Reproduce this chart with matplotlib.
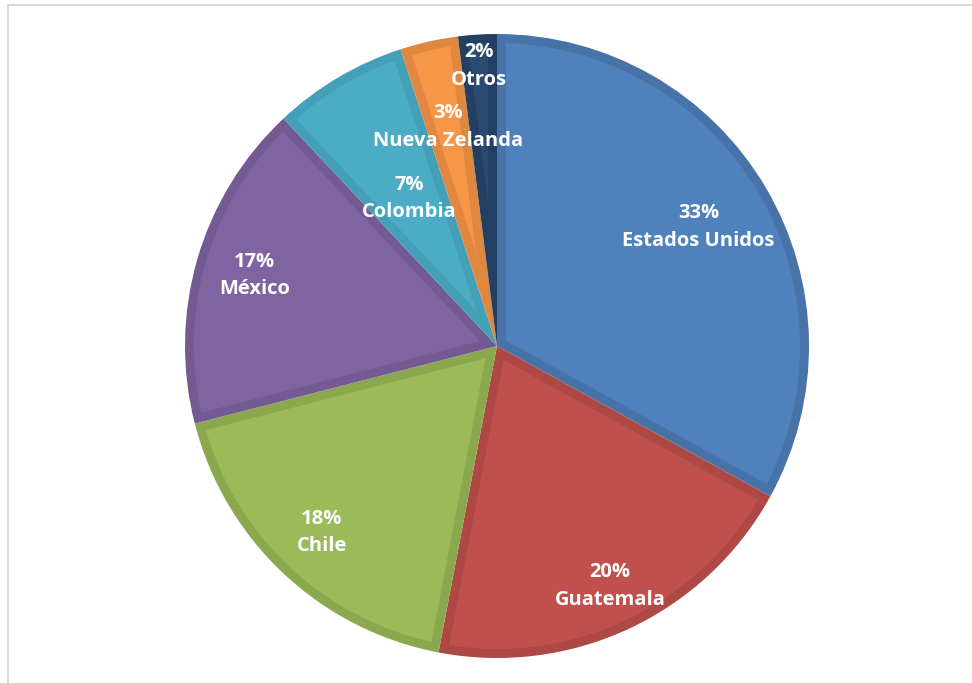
import numpy as np
import matplotlib.pyplot as plt
from matplotlib.lines import Line2D
from matplotlib.patches import Polygon

paises = ['Estados Unidos', 'Guatemala', 'Chile', 'México', 'Colombia', 'Nueva Zelanda', 'Otros']
valores = [33, 20, 18, 17, 7, 3, 2]
colores = ['#4F81BD', '#C0504D', '#9BBB59', '#8064A2', '#4BACC6', '#F79646', '#2B4A72']
bordes = ['#4873A9', '#AD4845', '#8AA94E', '#735A92', '#44A0B8', '#E0883F', '#233F63']
# distance of each label from the centre (fraction of radius)
label_r = [0.75, 0.85, 0.82, 0.81, 0.55, 0.72, 0.90]

W, H = 972, 683
fig = plt.figure(figsize=(W / 100, H / 100), dpi=100)
ax = fig.add_axes([0, 0, 1, 1])

cx, cy, R = 497, H - 346, 312
d = 9  # width of the darker inner rim, px

# outer wedges in the rim colour, lighter inset on top
wedges, _ = ax.pie(valores, colors=bordes, startangle=90, counterclock=False,
                   center=(cx, cy), radius=R, frame=True,
                   wedgeprops=dict(linewidth=0))
for w, c in zip(wedges, colores):
    t1, t2 = np.deg2rad(w.theta1), np.deg2rad(w.theta2)
    h = (t2 - t1) / 2
    mid = t1 + h
    off = d / np.sin(h)
    px, py = cx + off * np.cos(mid), cy + off * np.sin(mid)
    dl = np.arcsin(d / (R - d))
    ts = np.linspace(t1 + dl, t2 - dl, 200)
    pts = [(px, py)] + [(cx + (R - d) * np.cos(t), cy + (R - d) * np.sin(t)) for t in ts]
    ax.add_patch(Polygon(pts, closed=True, facecolor=c, edgecolor='none'))

ax.set_xlim(0, W)
ax.set_ylim(0, H)
ax.axis('off')

total = sum(valores)
ang0 = 90.0
for nombre, v, r in zip(paises, valores, label_r):
    span = 360.0 * v / total
    mid = np.deg2rad(ang0 - span / 2)
    ang0 -= span
    x = cx + r * R * np.cos(mid)
    y = cy + r * R * np.sin(mid)
    ax.text(x, y, f'{v}%\n{nombre}', ha='center', va='center', color='white',
            fontsize=14.5, fontweight='bold', family='Open Sans', linespacing=1.5)

# outer chart frame
fig.add_artist(Line2D([7.5 / W, 7.5 / W], [0, 1 - 4.5 / H], color='#D9D9D9', lw=1.5,
                      transform=fig.transFigure))
fig.add_artist(Line2D([7.5 / W, 1], [1 - 4.5 / H, 1 - 4.5 / H], color='#D9D9D9', lw=1.5,
                      transform=fig.transFigure))

fig.savefig('out.png', dpi=100)
